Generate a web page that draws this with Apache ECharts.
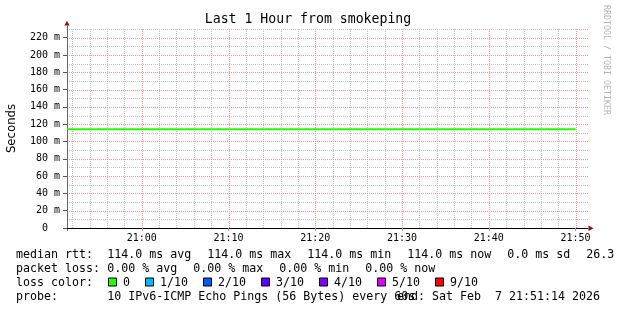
<!DOCTYPE html>
<html><head><meta charset="utf-8">
<script src="https://cdn.jsdelivr.net/npm/echarts@6/dist/echarts.min.js"></script>
<style>html,body{margin:0;padding:0;background:#fff}#c{width:617px;height:310px}</style>
</head><body><div id="c"></div>
<script>
// ---- data ----
const times = ['20:51:23', '21:00:00', '21:10:00', '21:20:00', '21:30:00', '21:40:00', '21:50:00'];
const medianRtt = [114, 114, 114, 114, 114, 114, 114]; // ms
const xRange = ['20:51:23', '21:51:26'];
const xMajorTicks = ['21:00', '21:10', '21:20', '21:30', '21:40', '21:50'];
const yRange = [0, 230];
const yMajorTicks = [0, 20, 40, 60, 80, 100, 120, 140, 160, 180, 200, 220];
const yMinorTicks = [10, 30, 50, 70, 90, 110, 130, 150, 170, 190, 210, 230];
const titleText = 'Last 1 Hour from smokeping';
const yTitle = 'Seconds';
const statRows = [
  ['median rtt:', ['114.0 ms avg', '114.0 ms max', '114.0 ms min', '114.0 ms now', '0.0 ms sd', '26.3']],
  ['packet loss:', ['0.00 % avg', '0.00 % max', '0.00 % min', '0.00 % now']]
];
const lossLabels = ['0', '1/10', '2/10', '3/10', '4/10', '5/10', '9/10'];
const lossColors = ['#26ff00', '#00b8ff', '#0059ff', '#5e00ff', '#7e00ff', '#dd00ff', '#ff0000'];
const probeText = '10 IPv6-ICMP Echo Pings (56 Bytes) every 60s';
const endText = 'end: Sat Feb  7 21:51:14 2026';
const watermark = 'RRDTOOL / TOBI OETIKER';

// ---- helpers ----
const toSec = s => { const p = s.split(':').map(Number); return p[0] * 3600 + p[1] * 60 + (p[2] || 0); };
const fmt = v => { const h = Math.floor(v / 3600), m = Math.round((v % 3600) / 60); return String(h).padStart(2, '0') + ':' + String(m).padStart(2, '0'); };
const xMin = toSec(xRange[0]), xMax = toSec(xRange[1]);
const majorX = xMajorTicks.map(toSec);
const minorX = [];
for (let t = Math.ceil(xMin / 120) * 120; t <= xMax; t += 120) if (t % 600 !== 0) minorX.push(t);

const MONO = "'DejaVu Sans Mono', monospace";
const CW = 7.0;
const legFont = '11.63px ' + MONO;
const MINOR = '#c4c4c4';
const MAJOR = '#f29696';
const seriesData = times.map((t, i) => [toSec(t), medianRtt[i]]);

// ---- graphics (texts) ----
const g = [];
g.push({ type: 'text', x: 308, y: 19.5, style: { text: titleText, font: '13.2px ' + MONO, fill: '#000', align: 'center', verticalAlign: 'middle' } });
g.push({ type: 'text', x: 606, y: 60, rotation: -Math.PI / 2, style: { text: watermark, font: '8.3px ' + MONO, fill: '#b4b4b4', align: 'center', verticalAlign: 'middle' } });
g.push({ type: 'polygon', shape: { points: [[64.3, 25.5], [69.7, 25.5], [67, 21]] }, style: { fill: '#8b1010' } });
g.push({ type: 'line', shape: { x1: 67.5, y1: 25.5, x2: 67.5, y2: 29 }, style: { stroke: '#666', lineWidth: 1 } });
g.push({ type: 'polygon', shape: { points: [[588.5, 225.5], [588.5, 231], [593.5, 228.2]] }, style: { fill: '#8b1010' } });
g.push({ type: 'line', shape: { x1: 67.5, y1: 228, x2: 67.5, y2: 231 }, style: { stroke: '#666', lineWidth: 1 } });
const rowY = [254.5, 268.5, 282.5, 296.5];
statRows.forEach((r, i) => {
  g.push({ type: 'text', x: 16, y: rowY[i], style: { text: r[0], font: legFont, fill: '#000', verticalAlign: 'middle' } });
  let x = 107.3;
  r[1].forEach(s => {
    g.push({ type: 'text', x: x, y: rowY[i], style: { text: s, font: legFont, fill: '#000', verticalAlign: 'middle' } });
    x += s.length * CW + 16;
  });
});
g.push({ type: 'text', x: 16, y: rowY[2], style: { text: 'loss color:', font: legFont, fill: '#000', verticalAlign: 'middle' } });
let bx = 108;
lossLabels.forEach((l, i) => {
  g.push({ type: 'rect', shape: { x: bx + 0.5, y: rowY[2] - 4.5, width: 8, height: 8 }, style: { fill: lossColors[i], stroke: '#000', lineWidth: 1 } });
  g.push({ type: 'text', x: bx + 15, y: rowY[2], style: { text: l, font: legFont, fill: '#000', verticalAlign: 'middle' } });
  bx += 15 + l.length * CW + 15;
});
g.push({ type: 'text', x: 16, y: rowY[3], style: { text: 'probe:', font: legFont, fill: '#000', verticalAlign: 'middle' } });
g.push({ type: 'text', x: 107.3, y: rowY[3], style: { text: probeText, font: legFont, fill: '#000', verticalAlign: 'middle' } });
g.push({ type: 'text', x: 600, y: rowY[3], style: { text: endText, font: legFont, fill: '#000', align: 'right', verticalAlign: 'middle' } });

// grid lines positioned through the axis scales (custom series)
const gridLines = (vals, vertical, color, z) => ({
  type: 'custom', coordinateSystem: 'cartesian2d', silent: true, z: z, clip: false,
  data: vals.map(v => vertical ? [v, yRange[0]] : [xMin, v]),
  renderItem: (params, api) => {
    const cs = params.coordSys;
    const p = api.coord([api.value(0), api.value(1)]);
    let shape;
    if (vertical) { const x = Math.round(p[0]) + 0.5; shape = { x1: x, y1: cs.y, x2: x, y2: cs.y + cs.height }; }
    else { const y = Math.round(p[1]) + 0.5; shape = { x1: cs.x, y1: y, x2: cs.x + cs.width, y2: y }; }
    return { type: 'line', shape: shape, style: { stroke: color, lineWidth: 1, lineDash: [1, 1], fill: null } };
  }
});

const chart = echarts.init(document.getElementById('c'), null, { renderer: 'canvas' });
chart.setOption({
  animation: false,
  backgroundColor: '#fff',
  grid: { left: 67, right: 29, top: 29, bottom: 82, containLabel: false, outerBoundsMode: 'none' },
  xAxis: [
    { type: 'value', min: xMin, max: xMax, position: 'bottom', z: 5,
      axisLine: { show: true, onZero: false, lineStyle: { color: '#000', width: 1 } },
      axisTick: { show: true, customValues: majorX, length: 3, lineStyle: { color: '#f08080' } },
      axisLabel: { show: true, customValues: majorX, formatter: fmt, margin: 5, fontFamily: MONO, fontSize: 10, color: '#000' },
      splitLine: { show: false } }
  ],
  yAxis: [
    { type: 'value', min: yRange[0], max: yRange[1], position: 'left', z: 5,
      name: yTitle, nameLocation: 'middle', nameGap: 49, nameRotate: 90,
      nameTextStyle: { fontFamily: "'DejaVu Sans', sans-serif", fontSize: 11.7, color: '#000' },
      axisLine: { show: true, onZero: false, lineStyle: { color: '#666', width: 1 } },
      axisTick: { show: true, customValues: yMajorTicks, length: 4, lineStyle: { color: '#555' } },
      axisLabel: { show: true, customValues: yMajorTicks, formatter: v => v === 0 ? '0  ' : v + ' m', margin: 7, fontFamily: MONO, fontSize: 10, color: '#000' },
      splitLine: { show: false } }
  ],
  series: [
    gridLines(minorX, true, MINOR, 1),
    gridLines(yMinorTicks, false, MINOR, 1),
    gridLines(majorX, true, MAJOR, 2),
    gridLines(yMajorTicks.filter(v => v > 0), false, MAJOR, 2),
    { type: 'line', showSymbol: false, z: 10,
      lineStyle: { color: '#26ff00', width: 2 }, data: seriesData }
  ],
  graphic: g
});
</script></body></html>
